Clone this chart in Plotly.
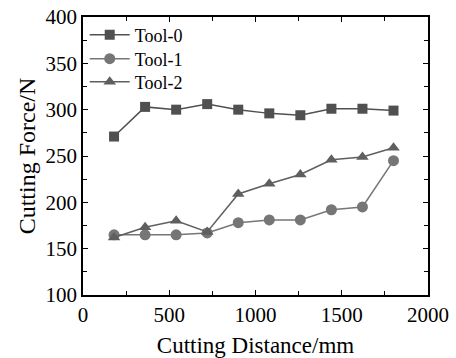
import plotly.graph_objects as go

distance = [180, 360, 540, 720, 900, 1080, 1260, 1440, 1620, 1800]
tool0 = [271, 303, 300, 306, 300, 296, 294, 301, 301, 299]
tool1 = [165, 165, 165, 167, 178, 181, 181, 192, 195, 245]
tool2 = [162, 173, 180, 168, 209, 220, 230, 246, 249, 259]
names = ["Tool-0", "Tool-1", "Tool-2"]

fig = go.Figure()
fig.add_trace(go.Scatter(x=distance, y=tool0, name=names[0], mode="lines+markers", legend="legend",
                         showlegend=True,
                         line=dict(color="#505050", width=1.5),
                         marker=dict(symbol="square", size=10, color="#505050")))
fig.add_trace(go.Scatter(x=distance, y=tool1, name=names[1], mode="lines+markers", legend="legend2",
                         showlegend=True,
                         line=dict(color="#767676", width=1.5),
                         marker=dict(symbol="circle", size=11, color="#767676")))
fig.add_trace(go.Scatter(x=distance, y=tool2, name=names[2], mode="lines+markers", legend="legend3",
                         showlegend=True,
                         line=dict(color="#5f5f5f", width=1.5),
                         marker=dict(symbol="triangle-up", size=11, color="#5f5f5f")))

font = "Times New Roman"
axis_common = dict(showline=True, linecolor="black", linewidth=1.5, mirror="allticks",
                   ticks="inside", ticklen=5, tickwidth=1.2, tickcolor="black",
                   showgrid=False, zeroline=False, automargin=False,
                   tickfont=dict(family=font, size=21, color="black"))
fig.update_xaxes(range=[0, 2000], dtick=500, tick0=0,
                 minor=dict(ticks="inside", dtick=250, ticklen=4, tickcolor="black"),
                 title=dict(text="Cutting Distance/mm", font=dict(family=font, size=23, color="black"), standoff=12),
                 **axis_common)
fig.update_yaxes(range=[100, 400], dtick=50, tick0=100,
                 minor=dict(ticks="inside", dtick=25, ticklen=4, tickcolor="black"),
                 title=dict(text="Cutting Force/N", font=dict(family=font, size=24, color="black"), standoff=3),
                 **axis_common)

def leg(y):
    return dict(x=0.005, y=y, xanchor="left", yanchor="middle", bgcolor="rgba(0,0,0,0)",
                font=dict(family=font, size=18, color="black"), itemwidth=40,
                visible=True)

fig.update_layout(width=456, height=358, margin=dict(l=83, r=28, t=17, b=63),
                  plot_bgcolor="white", paper_bgcolor="white", showlegend=True,
                  font=dict(family=font, color="black"),
                  legend=leg(0.935), legend2=leg(0.849), legend3=leg(0.766))
fig.write_html("out.html")
